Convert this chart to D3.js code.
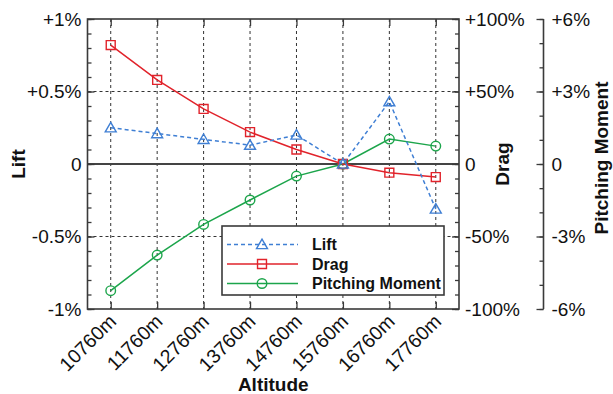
<!DOCTYPE html>
<html>
<head>
<meta charset="utf-8">
<script src="https://cdn.jsdelivr.net/npm/d3@7"></script>
<style>
  html, body { margin: 0; padding: 0; background: #fff; }
  svg { display: block; font-family: "Liberation Sans", Arial, Helvetica, sans-serif; }
</style>
</head>
<body>
<svg id="chart" width="613" height="394"></svg>
<script>
// Altitude stations along the x axis
const categories = ["10760m", "11760m", "12760m", "13760m", "14760m", "15760m", "16760m", "17760m"];

// Relative change of each coefficient, in percent
const liftValues  = [0.25, 0.21, 0.17, 0.13, 0.20, 0, 0.43, -0.31];
const dragValues  = [82, 58, 38, 22, 10, 0, -6, -9];
const pitchValues = [-5.24, -3.77, -2.50, -1.49, -0.50, 0, 1.03, 0.74];

// Axis ticks and their labels
const liftTicks  = [-1, -0.5, 0, 0.5, 1];
const liftLabels = ["-1%", "-0.5%", "0", "+0.5%", "+1%"];
const dragTicks  = [-100, -50, 0, 50, 100];
const dragLabels = ["-100%", "-50%", "0", "+50%", "+100%"];
const pitchTicks  = [-6, -3, 0, 3, 6];
const pitchLabels = ["-6%", "-3%", "0", "+3%", "+6%"];

const seriesNames = ["Lift", "Drag", "Pitching Moment"];

const colors = { lift: "#3f7fd4", drag: "#e1232b", pitch: "#1ca54b" };
const axisColor = "#3a3a3a";

const svg = d3.select("#chart");
const plot = { left: 87.5, right: 459, top: 19, bottom: 309 };

const x = d3.scalePoint().domain(categories).range([plot.left, plot.right]).padding(0.5);
const yLift  = d3.scaleLinear().domain([-1, 1]).range([plot.bottom, plot.top]);
const yDrag  = d3.scaleLinear().domain([-100, 100]).range([plot.bottom, plot.top]);
const yPitch = d3.scaleLinear().domain([-6, 6]).range([plot.bottom, plot.top]);

// Grid: dashed verticals at each station, dashed horizontals at ±0.5%
const grid = svg.append("g").attr("stroke", "#333").attr("stroke-width", 1).attr("stroke-dasharray", "3,3");
grid.selectAll("line.v").data(categories).join("line")
  .attr("x1", d => x(d)).attr("x2", d => x(d))
  .attr("y1", plot.top).attr("y2", plot.bottom);
grid.selectAll("line.h").data([-0.5, 0.5]).join("line")
  .attr("x1", plot.left).attr("x2", plot.right)
  .attr("y1", d => yLift(d)).attr("y2", d => yLift(d));

// Zero reference line
svg.append("line")
  .attr("x1", plot.left).attr("x2", plot.right)
  .attr("y1", yLift(0)).attr("y2", yLift(0))
  .attr("stroke", "#444").attr("stroke-width", 2);

function styleAxis(g, size) {
  g.select(".domain").remove();
  g.selectAll(".tick line").attr("stroke", axisColor).attr("stroke-width", 1.3);
  g.selectAll(".tick text").attr("fill", "#111").style("font-size", size + "px");
}

// Left axis (Lift)
const minorLift = d3.range(-1, 1.0001, 0.1);
svg.append("g").attr("transform", `translate(${plot.left},0)`)
  .call(d3.axisLeft(yLift).tickValues(minorLift).tickSize(-4).tickFormat(""))
  .call(g => styleAxis(g, 19));
svg.append("g").attr("transform", `translate(${plot.left},0)`)
  .call(d3.axisLeft(yLift).tickValues(liftTicks).tickSize(-7).tickPadding(6)
    .tickFormat((d, i) => liftLabels[i]))
  .call(g => styleAxis(g, 19));

// Right axis on the frame (Drag)
const minorDrag = d3.range(-100, 100.001, 10);
svg.append("g").attr("transform", `translate(${plot.right},0)`)
  .call(d3.axisRight(yDrag).tickValues(minorDrag).tickSize(-4).tickFormat(""))
  .call(g => styleAxis(g, 19));
svg.append("g").attr("transform", `translate(${plot.right},0)`)
  .call(d3.axisRight(yDrag).tickValues(dragTicks).tickSize(-7).tickPadding(6)
    .tickFormat((d, i) => dragLabels[i]))
  .call(g => styleAxis(g, 19));

// Detached axis (Pitching Moment)
const pitchX = 543.5;
const minorPitch = d3.range(-6, 6.001, 1);
svg.append("g").attr("transform", `translate(${pitchX},0)`)
  .call(d3.axisRight(yPitch).tickValues(minorPitch).tickSize(-4).tickFormat(""))
  .call(g => styleAxis(g, 19));
svg.append("g").attr("transform", `translate(${pitchX},0)`)
  .call(d3.axisRight(yPitch).tickValues(pitchTicks).tickSize(-7).tickPadding(8)
    .tickFormat((d, i) => pitchLabels[i]))
  .call(g => styleAxis(g, 19));
svg.append("line")
  .attr("x1", pitchX).attr("x2", pitchX)
  .attr("y1", plot.top).attr("y2", plot.bottom)
  .attr("stroke", axisColor).attr("stroke-width", 1.6);

// Bottom and top tick marks, rotated station labels
svg.append("g").attr("transform", `translate(0,${plot.bottom})`)
  .call(d3.axisBottom(x).tickSize(-7).tickFormat(""))
  .call(g => styleAxis(g, 19));
svg.append("g").attr("transform", `translate(0,${plot.top})`)
  .call(d3.axisTop(x).tickSize(-7).tickFormat(""))
  .call(g => styleAxis(g, 19));
svg.append("g").selectAll("text").data(categories).join("text")
  .attr("transform", d => `translate(${x(d) - 3},${plot.bottom + 4}) rotate(-45)`)
  .attr("text-anchor", "end")
  .attr("dy", "0.7em")
  .style("font-size", "19.5px")
  .attr("fill", "#111")
  .text(d => d);

// Plot frame
svg.append("rect")
  .attr("x", plot.left).attr("y", plot.top)
  .attr("width", plot.right - plot.left).attr("height", plot.bottom - plot.top)
  .attr("fill", "none").attr("stroke", axisColor).attr("stroke-width", 1.6);

// Axis titles
const titleStyle = sel => sel.style("font-size", "19px").style("font-weight", "bold")
  .attr("fill", "#111").attr("text-anchor", "middle");
svg.append("text").attr("transform", "translate(25,164) rotate(-90)").call(titleStyle).text("Lift");
svg.append("text").attr("transform", "translate(509,164) rotate(-90)").call(titleStyle).text("Drag");
svg.append("text").attr("transform", "translate(608,158) rotate(-90)").call(titleStyle).text("Pitching Moment");
svg.append("text").attr("x", (plot.left + plot.right) / 2).attr("y", 391).call(titleStyle).text("Altitude");

// Marker shapes
const triangle = d3.symbol().type(d3.symbolTriangle).size(52);
const square = d3.symbol().type(d3.symbolSquare).size(80);
function drawMarker(g, kind, cx, cy, color) {
  if (kind === "circle") {
    g.append("circle").attr("cx", cx).attr("cy", cy).attr("r", 4.8)
      .attr("fill", "none").attr("stroke", color).attr("stroke-width", 1.4);
  } else {
    g.append("path").attr("d", kind === "triangle" ? triangle() : square())
      .attr("transform", `translate(${cx},${cy + (kind === "triangle" ? 1 : 0)})`)
      .attr("fill", "none").attr("stroke", color).attr("stroke-width", 1.4);
  }
}

// Series
const series = [
  { name: seriesNames[0], values: liftValues,  scale: yLift,  color: colors.lift,  marker: "triangle", dash: "4,3" },
  { name: seriesNames[1], values: dragValues,  scale: yDrag,  color: colors.drag,  marker: "square",   dash: null },
  { name: seriesNames[2], values: pitchValues, scale: yPitch, color: colors.pitch, marker: "circle",   dash: null }
];

// Draw order: pitching, drag, then lift on top
[series[2], series[1], series[0]].forEach(s => {
  const line = d3.line().x((d, i) => x(categories[i])).y(d => s.scale(d));
  const g = svg.append("g");
  g.append("path").datum(s.values).attr("d", line)
    .attr("fill", "none").attr("stroke", s.color).attr("stroke-width", 1.5)
    .attr("stroke-dasharray", s.dash);
  s.values.forEach((v, i) => drawMarker(g, s.marker, x(categories[i]), s.scale(v), s.color));
});

// Legend
const legend = { x: 222, y: 226, w: 222, h: 69 };
svg.append("rect").attr("x", legend.x).attr("y", legend.y)
  .attr("width", legend.w).attr("height", legend.h)
  .attr("fill", "#fff").attr("stroke", axisColor).attr("stroke-width", 1.6);
const rowY = [244.5, 264, 283.5];
series.forEach((s, i) => {
  const g = svg.append("g");
  g.append("line").attr("x1", 227).attr("x2", 298).attr("y1", rowY[i]).attr("y2", rowY[i])
    .attr("stroke", s.color).attr("stroke-width", 1.5).attr("stroke-dasharray", s.dash);
  drawMarker(g, s.marker, 262, rowY[i], s.color);
  g.append("text").attr("x", 312).attr("y", rowY[i]).attr("dy", "0.35em")
    .style("font-size", "16px").style("font-weight", "bold").attr("fill", "#111")
    .text(s.name);
});
</script>
</body>
</html>
